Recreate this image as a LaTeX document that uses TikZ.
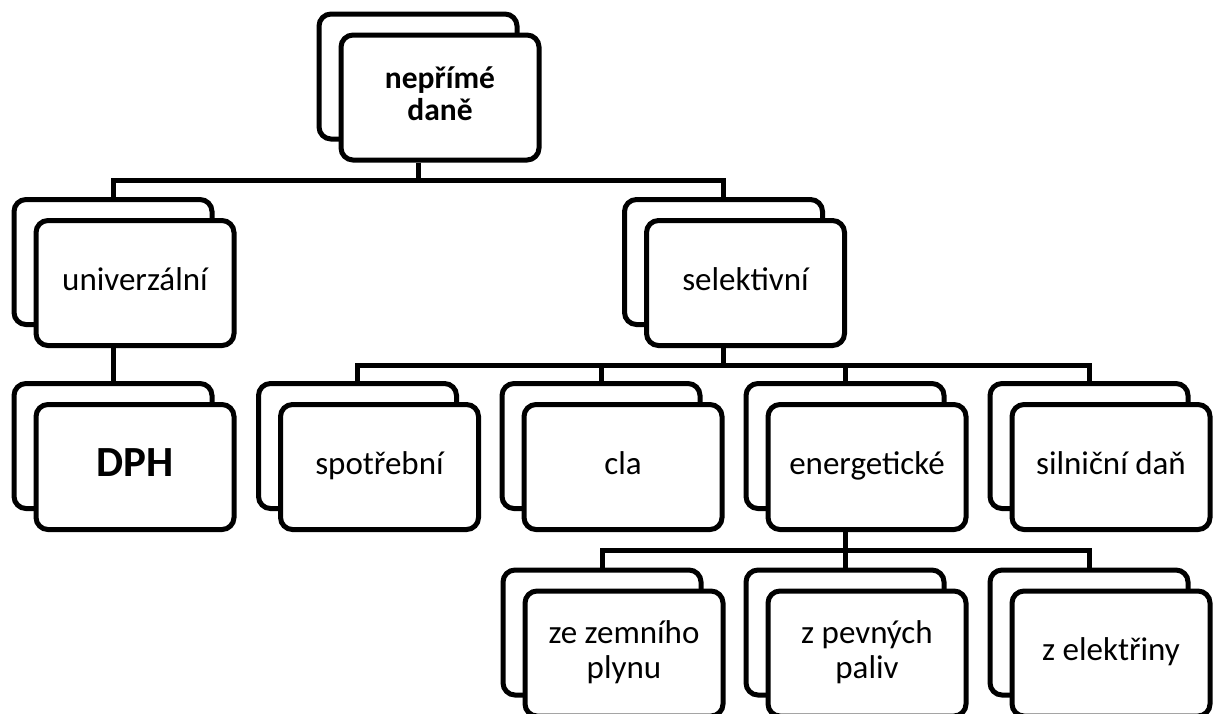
\documentclass[tikz,border=0pt]{standalone}
\usepackage{fontspec}
\setmainfont{Carlito}
\newcommand\ls{\rule[-8pt]{0pt}{27pt}}
\newcommand\lt{\rule[-7pt]{0pt}{25pt}}
\newcommand\stacknode[5][]{%
  \node[box] (#2b) at (#3,#4) {};
  \node[box,#1] (#2) at (#3+22,#4+21) {#5};
}
\begin{document}
\begin{tikzpicture}[x=1pt,y=-1pt,
  box/.style={draw, line width=5pt, rounded corners=12pt, fill=white,
    minimum width=198pt, minimum height=125pt, inner sep=0pt, align=center,
    font=\fontsize{33}{35}\selectfont},
  conn/.style={line width=5pt}]
\useasboundingbox (0,0) rectangle (1218,713);
\clip (0,0) rectangle (1218,713);
% level 1
\stacknode[font=\bfseries\fontsize{31.5}{32}\selectfont]{top}{418}{76.5}{\lt nepřímé\\\lt daně}
% level 2
\stacknode{uni}{113}{262}{\ls univerzální}
\stacknode{sel}{723.5}{262}{\ls selektivní}
% level 3
\stacknode[font=\bfseries\fontsize{43}{44}\selectfont]{dph}{113}{446}{\ls DPH}
\stacknode{spo}{357.5}{446}{\ls spotřební}
\stacknode{cla}{601}{446}{\ls cla}
\stacknode{ene}{845}{446}{\ls energetické}
\stacknode{sil}{1089}{446}{\ls silniční daň}
% level 4
\stacknode{zem}{602}{632.5}{\ls ze zemního\\\ls plynu}
\stacknode{pev}{845}{632.5}{\ls z pevných\\\ls paliv}
\stacknode{ele}{1089}{632.5}{\ls z elektřiny}
% junctions
\coordinate (j1) at (418,180);
\coordinate (j2) at (723.5,365);
\coordinate (j3) at (845,550);
% connectors
\draw[conn] (topb.south |- top.south) -- (j1);
\draw[conn] (unib.north) |- (j1) -| (selb.north);
\draw[conn] (unib.south |- uni.south) -- (dphb.north);
\draw[conn] (selb.south |- sel.south) -- (j2);
\draw[conn] (spob.north) |- (j2) -| (silb.north);
\draw[conn] (clab.north) -- (clab.north |- j2);
\draw[conn] (eneb.north) -- (eneb.north |- j2);
\draw[conn] (eneb.south |- ene.south) -- (j3);
\draw[conn] (zemb.north) |- (j3) -| (eleb.north);
\draw[conn] (pevb.north) -- (pevb.north |- j3);
\end{tikzpicture}
\end{document}
